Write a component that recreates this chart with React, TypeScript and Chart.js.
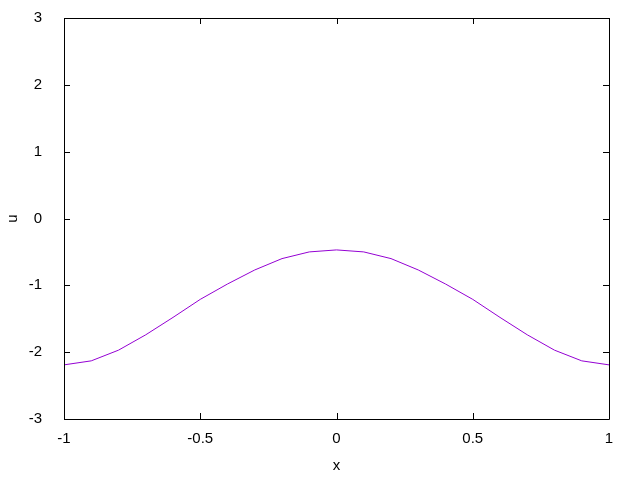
import React, { useEffect, useRef } from "react";
import { Chart, registerables } from "chart.js";

Chart.register(...registerables);

const xValues = [-1, -0.9, -0.8, -0.7, -0.6, -0.5, -0.4, -0.3, -0.2, -0.1, 0, 0.1, 0.2, 0.3, 0.4, 0.5, 0.6, 0.7, 0.8, 0.9, 1];
const uValues = [-2.19, -2.13, -1.97, -1.74, -1.48, -1.21, -0.98, -0.77, -0.6, -0.5, -0.47, -0.5, -0.6, -0.77, -0.98, -1.21, -1.48, -1.74, -1.97, -2.13, -2.19];
const xTicks = [-1, -0.5, 0, 0.5, 1];
const yTicks = [-3, -2, -1, 0, 1, 2, 3];

const frameTicks = {
  id: "frameTicks",
  afterDatasetsDraw(chart: any) {
    const { ctx, chartArea: a, scales } = chart;
    const len = 6;
    ctx.save();
    ctx.strokeStyle = "#000";
    ctx.lineWidth = 1;
    ctx.beginPath();
    ctx.rect(Math.round(a.left) + 0.5, Math.round(a.top) + 0.5, Math.round(a.right - a.left), Math.round(a.bottom - a.top));
    for (const v of xTicks) {
      const px = Math.round(scales.x.getPixelForValue(v)) + 0.5;
      ctx.moveTo(px, a.bottom);
      ctx.lineTo(px, a.bottom - len);
      ctx.moveTo(px, a.top);
      ctx.lineTo(px, a.top + len);
    }
    for (const v of yTicks) {
      const py = Math.round(scales.y.getPixelForValue(v)) + 0.5;
      ctx.moveTo(a.left, py);
      ctx.lineTo(a.left + len, py);
      ctx.moveTo(a.right, py);
      ctx.lineTo(a.right - len, py);
    }
    ctx.stroke();
    ctx.restore();
  },
};

export default function App() {
  const ref = useRef<HTMLCanvasElement | null>(null);
  useEffect(() => {
    if (!ref.current) return;
    const font = { family: "'Liberation Sans', Arial, sans-serif", size: 15 };
    const fmt = (v: any) => String(Number(v));
    const chart = new Chart(ref.current, {
      type: "line",
      data: {
        datasets: [
          {
            data: xValues.map((x, i) => ({ x, y: uValues[i] })),
            borderColor: "#9400d3",
            borderWidth: 1,
            pointRadius: 0,
            tension: 0,
            fill: false,
          },
        ],
      },
      options: {
        animation: false,
        responsive: false,
        devicePixelRatio: 1,
        layout: { padding: { top: 18, right: 31, left: 0, bottom: 0 } },
        plugins: { legend: { display: false }, tooltip: { enabled: false } },
        scales: {
          x: {
            type: "linear",
            min: -1,
            max: 1,
            afterFit: (s: any) => { s.height = 61; s.paddingLeft = 0; s.paddingRight = 0; },
            afterBuildTicks: (s: any) => { s.ticks = xTicks.map((v) => ({ value: v })); },
            grid: { display: false },
            border: { display: false },
            ticks: { font, color: "#000", padding: 3, maxRotation: 0, callback: fmt },
            title: { display: true, text: "x", font, color: "#000", padding: { top: 0, bottom: 5 } },
          },
          y: {
            type: "linear",
            min: -3,
            max: 3,
            afterFit: (s: any) => { s.width = 64; s.paddingTop = 0; s.paddingBottom = 0; },
            afterBuildTicks: (s: any) => { s.ticks = yTicks.map((v) => ({ value: v })); },
            grid: { display: false },
            border: { display: false },
            ticks: { font, color: "#000", padding: 14, callback: fmt },
            title: { display: true, text: "u", font, color: "#000", padding: { top: 4, bottom: 0 } },
          },
        },
      },
      plugins: [frameTicks],
    } as any);
    return () => chart.destroy();
  }, []);
  return (
    <div style={{ position: "absolute", left: 0, top: 0, width: 640, height: 480, background: "#fff" }}>
      <canvas ref={ref} width={640} height={480} />
    </div>
  );
}
